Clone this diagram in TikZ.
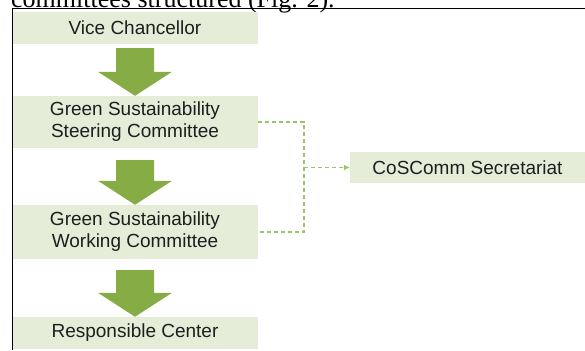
\documentclass[tikz,border=0pt]{standalone}
\usepackage{fontspec}
\setmainfont{Liberation Serif}
\newfontfamily\boxfont{Liberation Sans}
\usetikzlibrary{calc,arrows.meta}
\definecolor{boxgreen}{HTML}{E5EDD9}
\definecolor{arrowgreen}{HTML}{86AD45}
\definecolor{dashgreen}{HTML}{9CC26A}
\definecolor{txtgray}{HTML}{1E1E1E}
\newcommand\greenarrow[3]{%
  \fill[blockarrow] let \p1=(#1.south), \p2=(#2.north) in
    (\x1-19pt,\y1-#3) -- (\x1+19pt,\y1-#3) -- (\x1+19pt,\y2+24pt) --
    (\x1+37pt,\y2+24pt) -- (\x1,\y2) -- (\x1-37pt,\y2+24pt) --
    (\x1-19pt,\y2+24pt) -- cycle;}
\begin{document}
\begin{tikzpicture}[x=1pt,y=-1pt,
  orgbox/.style={fill=boxgreen, draw=none, minimum width=246pt, inner sep=0pt,
    text=txtgray, font=\boxfont\fontsize{19}{22}\selectfont, align=center},
  blockarrow/.style={fill=arrowgreen},
  dashline/.style={draw=dashgreen, line width=1.7pt, dash pattern=on 4pt off 3pt}]
\useasboundingbox (0,0) rectangle (585,350);
\clip (0,0) rectangle (585,350);
% caption fragment
\node[anchor=base west, inner sep=0pt, font=\fontsize{26}{30}\selectfont] (cap) at (11,7.5) {committees structured (Fig. 2).};
% boxes
\node[orgbox, minimum height=32pt] (vc) at (135,28) {Vice Chancellor};
\node[orgbox, minimum height=52pt] (sc) at (135,122) {Green Sustainability\\Steering Committee};
\node[orgbox, minimum height=54pt] (wc) at (135,232) {Green Sustainability\\Working Committee};
\node[orgbox, minimum height=32pt] (rc) at (135,333) {Responsible Center};
\node[orgbox, minimum width=235pt, minimum height=31pt] (cs) at (467.5,167.5) {CoSComm Secretariat};
% block arrows
\greenarrow{vc}{sc}{4pt}
\greenarrow{sc}{wc}{12pt}
\greenarrow{wc}{rc}{11pt}
% dashed connectors
\coordinate (j) at (304,167.5);
\draw[dashline] (sc.east) -| (j) |- (wc.east);
\draw[dashline, -{Latex[length=6pt,width=6pt]}] (j) -- (cs.west);
% frame lines
\draw[line width=1pt] (12,350) -- (12,9) -- (585,9);
\end{tikzpicture}
\end{document}
